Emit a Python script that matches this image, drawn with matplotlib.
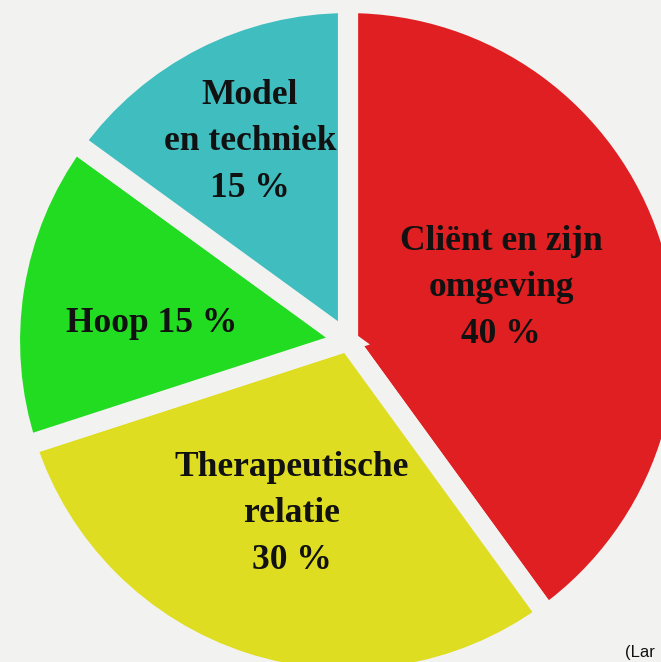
import matplotlib.pyplot as plt

# slices, clockwise from 12 o'clock
labels = ['Cliënt en zijn\nomgeving\n40 %', 'Therapeutische\nrelatie\n30 %', 'Hoop 15 %', 'Model\nen techniek\n15 %']
shares = [40, 30, 15, 15]
colors = ['#e01f22', '#dedd22', '#22dc22', '#40bdbf']
source = '(Lar'   # what is left visible of the source note

bg = '#f2f3f1'
W, H = 661, 662
cx, cy, R = 348, 341, 338   # pie centre and radius (incl. edge) in pixels

fig = plt.figure(figsize=(W / 100, H / 100), dpi=100, facecolor=bg)
ax = fig.add_axes([0, 0, 1, 1])
ax.set_facecolor(bg)

ax.pie(shares, colors=colors, startangle=90, counterclock=False, radius=1.0,
       wedgeprops={'edgecolor': bg, 'linewidth': 14.5})

ax.set_xlim(-cx / R, (W - cx) / R)
ax.set_ylim(-(H - cy) / R, cy / R)
ax.set_aspect('equal')
ax.axis('off')

# label centres in pixels
label_pos = [(501, 288), (292, 514), (152, 323), (250, 142)]
for text, (px, py) in zip(labels, label_pos):
    ax.text((px - cx) / R, (cy - py) / R, text, ha='center', va='center',
            fontsize=25.5, fontweight='bold', family='Liberation Serif',
            color='#111111', linespacing=1.55)

fig.text(625 / W, 1 - 652 / H, source, ha='left', va='center',
         fontsize=12, family='Liberation Sans', color='#111111')

plt.savefig('out.png', dpi=100, facecolor=bg)
